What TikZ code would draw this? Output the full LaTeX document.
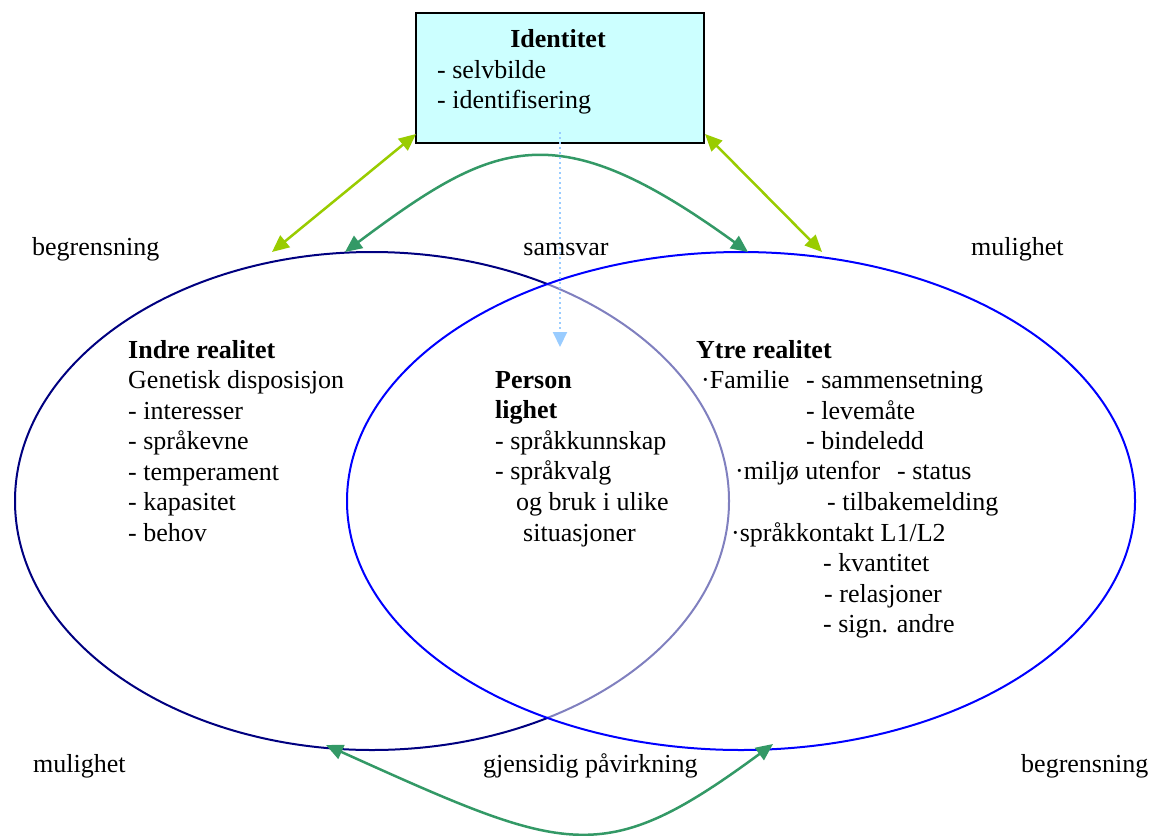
\documentclass[tikz,border=0pt]{standalone}
\usepackage{fontspec}
\setmainfont{Liberation Serif}
\usetikzlibrary{arrows.meta,shapes.geometric}
\definecolor{navyc}{HTML}{000080}
\definecolor{bluec}{HTML}{0000FF}
\definecolor{cyanfill}{HTML}{CCFFFF}
\definecolor{ygreen}{HTML}{99CC00}
\definecolor{sgreen}{HTML}{339966}
\definecolor{lblue}{HTML}{99CCFF}
\begin{document}
\begin{tikzpicture}[x=1pt,y=-1pt,
  txt/.style={anchor=base west, inner sep=0pt, font=\fontsize{26}{31}\selectfont},
  ctxt/.style={anchor=base, inner sep=0pt, font=\fontsize{26}{31}\selectfont},
  ell/.style={ellipse, inner sep=0pt, line width=2pt},
  idbox/.style={draw=black, fill=cyanfill, line width=2.5pt, minimum width=288pt, minimum height=130pt, inner sep=0pt},
  yga/.style={draw=ygreen, line width=2.5pt, {Triangle[length=17pt,width=15pt]}-{Triangle[length=17pt,width=15pt]}},
  sga/.style={draw=sgreen, line width=2.5pt, {Triangle[length=17pt,width=15pt]}-{Triangle[length=17pt,width=15pt]}},
  dota/.style={draw=lblue, line width=2pt, dash pattern=on 2pt off 3pt, -{Triangle[length=15pt,width=14pt]}}
]
\useasboundingbox (0,0) rectangle (1155,835);
\fill[white] (0,0) rectangle (1155,835);

% ellipses
\node[ell, draw=navyc, minimum width=714pt, minimum height=498pt] (inner) at (372,501) {};
\node[ell, draw=bluec, fill=white, fill opacity=0.5, minimum width=788pt, minimum height=498pt] (outer) at (741,501) {};

% identity box
\node[idbox] (id) at (560,78) {};
\node[ctxt] (idt) at (558,47) {\bfseries Identitet};
\node[txt] (id1) at (437,78) {- selvbilde};
\node[txt] (id2) at (437,108) {- identifisering};

% coordinates
\coordinate (ylt) at (416,134);
\coordinate (ylb) at (272,252);
\coordinate (yrt) at (705,134);
\coordinate (yrb) at (822,252);
\coordinate (gl) at (345,252);
\coordinate (gr) at (748,252);
\coordinate (bl) at (326,745);
\coordinate (br) at (773,744);
\coordinate (dtop) at (560,132);
\coordinate (dbot) at (560,347);

% connectors
\draw[yga] (ylt) -- (ylb);
\draw[yga] (yrt) -- (yrb);
\draw[sga] (gl) .. controls (495,140) and (555,112) .. (gr);
\draw[sga] (bl) .. controls (568,854) and (602,870) .. (br);
\draw[dota] (dtop) -- (dbot);

% side labels
\node[txt] (lb1) at (32,255) {begrensning};
\node[ctxt] (lb2) at (566,255) {samsvar};
\node[txt] (lb3) at (971,255) {mulighet};
\node[txt] (lb4) at (33,772) {mulighet};
\node[txt] (lb5) at (483,772) {gjensidig påvirkning};
\node[txt] (lb6) at (1021,772) {begrensning};

% indre realitet
\node[txt] (in0) at (128,358) {\bfseries Indre realitet};
\node[txt] (in1) at (128,388.5) {Genetisk disposisjon};
\node[txt] (in2) at (128,419) {- interesser};
\node[txt] (in3) at (128,449.5) {- språkevne};
\node[txt] (in4) at (128,480) {- temperament};
\node[txt] (in5) at (128,510.5) {- kapasitet};
\node[txt] (in6) at (128,541) {- behov};

% personlighet
\node[txt] (pe0) at (495,388) {\bfseries Person};
\node[txt] (pe1) at (495,418.5) {\bfseries lighet};
\node[txt] (pe2) at (495,449) {- språkkunnskap};
\node[txt] (pe3) at (495,479.5) {- språkvalg};
\node[txt] (pe4) at (516,510) {og bruk i ulike};
\node[txt] (pe5) at (523,541) {situasjoner};

% ytre realitet
\node[txt] (yt0) at (696,358) {\bfseries Ytre realitet};
\node[txt] (yt1) at (701,388.5) {·Familie};
\node[txt] (yt1b) at (806,388.5) {- sammensetning};
\node[txt] (yt2) at (806,419) {- levemåte};
\node[txt] (yt3) at (806,449.5) {- bindeledd};
\node[txt] (yt4) at (735,479.5) {·miljø utenfor};
\node[txt] (yt4b) at (897,479.5) {- status};
\node[txt] (yt5) at (827,510) {- tilbakemelding};
\node[txt] (yt6) at (731,541) {·språkkontakt L1/L2};
\node[txt] (yt7) at (823,571.5) {- kvantitet};
\node[txt] (yt8) at (824,602) {- relasjoner};
\node[txt] (yt9) at (823,632.5) {- sign. andre};
\end{tikzpicture}
\end{document}
